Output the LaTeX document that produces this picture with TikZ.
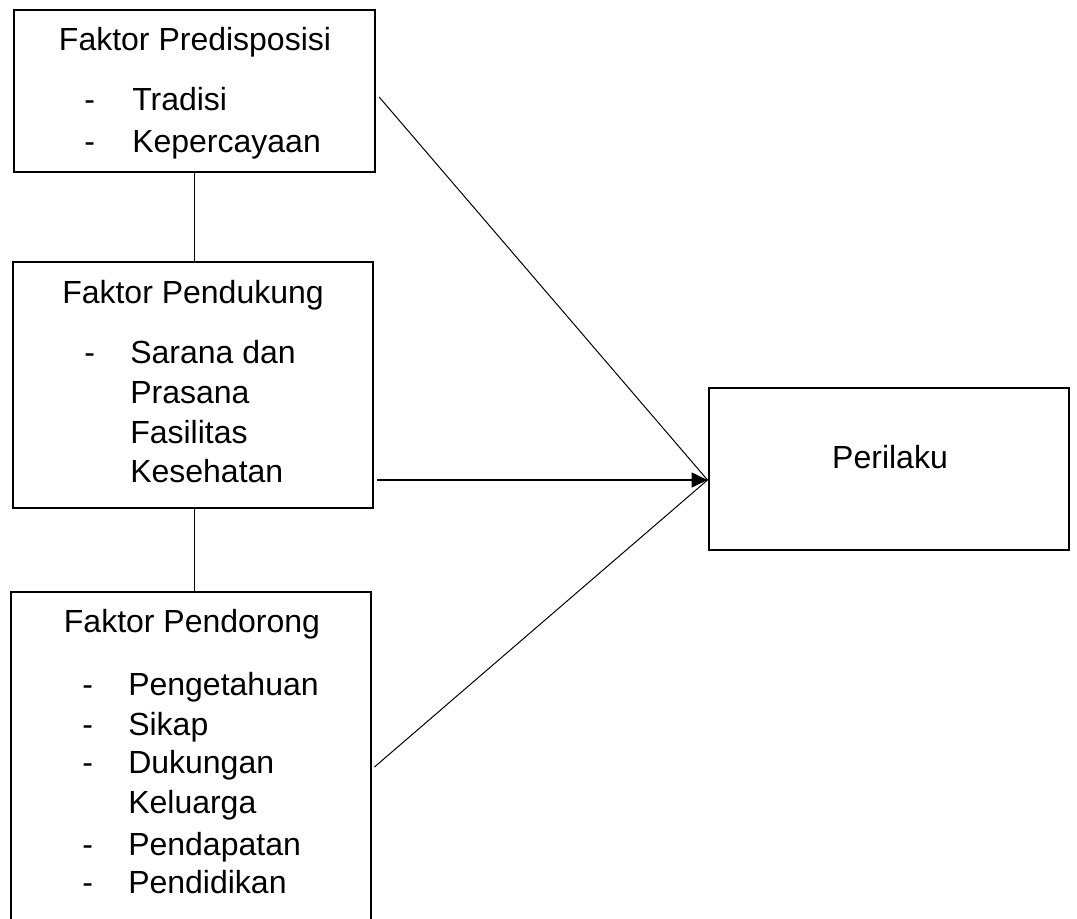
\documentclass[tikz,border=0pt]{standalone}
\usepackage{fontspec}
\setmainfont{Liberation Sans}
\usetikzlibrary{arrows.meta}
\begin{document}
\begin{tikzpicture}[x=0.75pt,y=-0.75pt,font=\fontsize{24}{28}\selectfont,
    kotak/.style={draw,line width=2.2pt,inner sep=0pt},
    judul/.style={anchor=base,inner sep=0pt},
    butir/.style={anchor=base west,inner sep=0pt},
    garis/.style={line width=0.75pt}]
    \useasboundingbox (0,0) rectangle (1077,918);
    \clip (0,0) rectangle (1077,918);
    % kotak faktor
    \node[kotak,minimum width=270.75pt,minimum height=121.5pt] (pred) at (194.5,91) {};
    \node[kotak,minimum width=270pt,minimum height=184.5pt] (pend) at (193,385) {};
    \node[kotak,minimum width=270pt,minimum height=268.5pt] (dor) at (191,771) {};
    \node[kotak,minimum width=270pt,minimum height=121.5pt] (peri) at (889,469) {};
    % isi kotak
    \node[judul] (jpred) at (195,50) {Faktor Predisposisi};
    \node[butir] (d1) at (84,110) {-};
    \node[butir] (t1) at (132,110) {Tradisi};
    \node[butir] (d2) at (84,152) {-};
    \node[butir] (t2) at (132,152) {Kepercayaan};
    \node[judul] (jpend) at (193,303) {Faktor Pendukung};
    \node[butir] (d3) at (84,363) {-};
    \node[butir] (t3) at (130,363) {Sarana dan};
    \node[butir] (t4) at (130,403) {Prasana};
    \node[butir] (t5) at (130,443) {Fasilitas};
    \node[butir] (t6) at (130,482) {Kesehatan};
    \node[judul] (jdor) at (192,632) {Faktor Pendorong};
    \node[butir] (d4) at (82,695) {-};
    \node[butir] (t7) at (128,695) {Pengetahuan};
    \node[butir] (d5) at (82,735) {-};
    \node[butir] (t8) at (128,735) {Sikap};
    \node[butir] (d6) at (82,773) {-};
    \node[butir] (t9) at (128,773) {Dukungan};
    \node[butir] (t10) at (128,813) {Keluarga};
    \node[butir] (d7) at (82,855) {-};
    \node[butir] (t11) at (128,855) {Pendapatan};
    \node[butir] (d8) at (82,893) {-};
    \node[butir] (t12) at (128,893) {Pendidikan};
    \node[judul] (jperi) at (890,468) {Perilaku};
    % garis
    \coordinate (ujung) at ([yshift=-8.25pt]peri.west);
    \draw[garis] ([xshift=2pt,yshift=-4.5pt]pred.east) -- (ujung);
    \draw[line width=1.8pt,-{Triangle[length=12pt,width=11pt]}] ([xshift=2pt]pend.east |- ujung) -- (ujung);
    \draw[garis] ([xshift=1.5pt,yshift=3pt]dor.east) -- (ujung);
    \draw[garis] (pred.south) -- (pred.south |- pend.north);
    \draw[garis] (pred.south |- pend.south) -- (pred.south |- dor.north);
\end{tikzpicture}
\end{document}
